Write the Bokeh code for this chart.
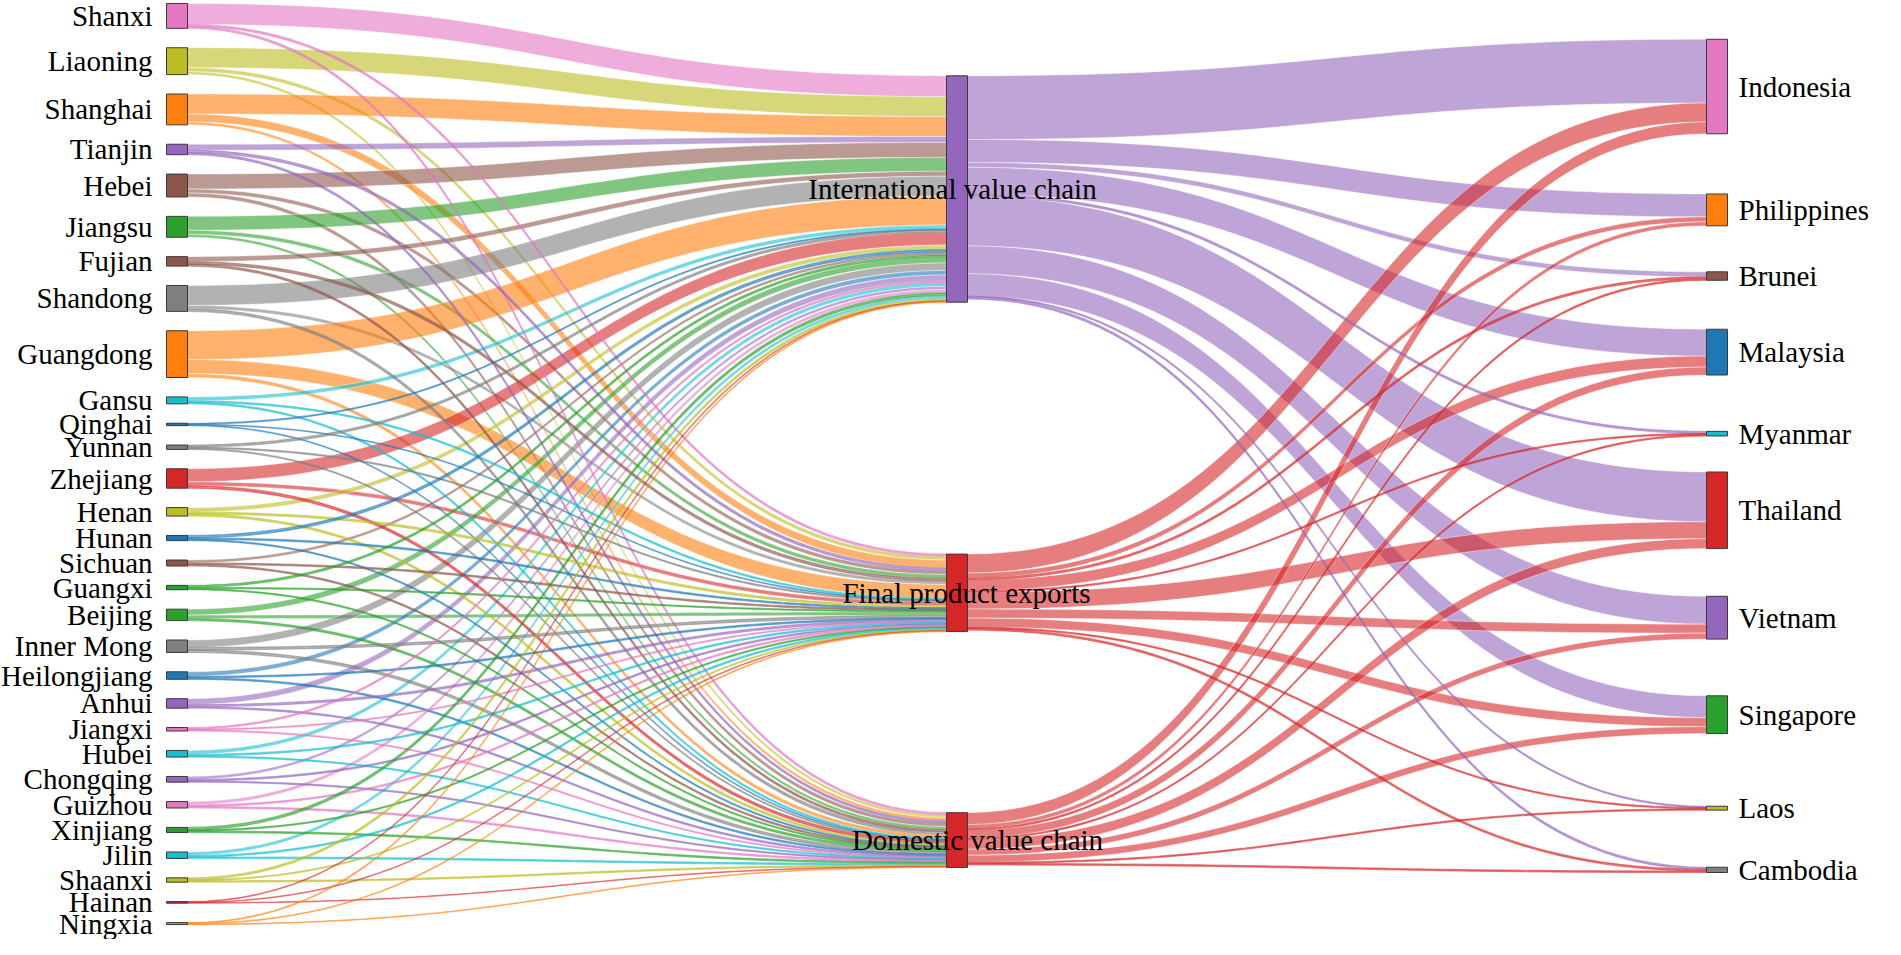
import numpy as np
from bokeh.plotting import figure
from bokeh.models import Range1d, ColumnDataSource
from bokeh.embed import file_html
from bokeh.resources import INLINE
from bokeh.core.properties import value

# ---------------- data ----------------
provinces = ["Shanxi", "Liaoning", "Shanghai", "Tianjin", "Hebei", "Jiangsu", "Fujian",
             "Shandong", "Guangdong", "Gansu", "Qinghai", "Yunnan", "Zhejiang", "Henan",
             "Hunan", "Sichuan", "Guangxi", "Beijing", "Inner Mong", "Heilongjiang", "Anhui",
             "Jiangxi", "Hubei", "Chongqing", "Guizhou", "Xinjiang", "Jilin", "Shaanxi",
             "Hainan", "Ningxia"]
# province -> stage flows
to_ivc = [21, 20, 20, 6, 15, 14, 5, 20, 29, 4, 1, 2.2, 13, 4.5, 2.5, 3, 2, 6, 7.5, 4.5, 6,
          1.5, 4, 3, 3.5, 2.5, 3.5, 2, 0.6, 0.8]
to_fpe = [2, 4, 8, 2.5, 4, 4, 2.5, 3.5, 14, 1.5, 0.7, 1.2, 4, 2, 1.5, 1.5, 1.2, 3.5, 2.5,
          1.5, 2, 1, 1.5, 1.5, 1.5, 1.2, 1.5, 1, 0.5, 0.6]
to_dvc = [2, 3, 3, 2, 4, 3, 2, 2.5, 4, 1.5, 0.7, 1, 2.5, 2, 1.2, 1.5, 1.2, 2, 2.5,
          1.5, 1.5, 1, 1.2, 1.2, 1.5, 1.5, 1.5, 1.4, 0.5, 0.6]

stages = ["International value chain", "Final product exports", "Domestic value chain"]

countries = ["Indonesia", "Philippines", "Brunei", "Malaysia", "Myanmar", "Thailand",
             "Vietnam", "Singapore", "Laos", "Cambodia"]
# stage -> country flows
ivc_out = [64, 23, 5, 27, 2, 50, 28, 22, 1.3, 2]
fpe_out = [19, 5, 2, 11, 1.3, 17, 9, 9, 1.3, 1.8]
dvc_out = [12, 4, 1.5, 8, 1.3, 10, 6, 7, 1.3, 1.5]

# ---------------- styles ----------------
C = {"blue": "#1f77b4", "orange": "#ff7f0e", "green": "#2ca02c", "red": "#d62728",
     "purple": "#9467bd", "brown": "#8c564b", "pink": "#e377c2", "gray": "#7f7f7f",
     "olive": "#bcbd22", "cyan": "#17becf"}
province_colors = [C[c] for c in
                   ["pink", "olive", "orange", "purple", "brown", "green", "brown", "gray",
                    "orange", "cyan", "blue", "gray", "red", "olive", "blue", "brown", "green",
                    "green", "gray", "blue", "purple", "pink", "cyan", "purple", "pink", "green",
                    "cyan", "olive", "red", "orange"]]
stage_colors = [C["purple"], C["red"], C["red"]]
country_colors = [C[c] for c in ["pink", "orange", "brown", "blue", "cyan", "red", "purple",
                                 "green", "olive", "gray"]]

FONT = value("Liberation Serif")
FSIZE = "29px"

# ---------------- layout (reference pixel space) ----------------
COL_X = [172, 952, 1712]
NODE_W = 21
LEFT_TOP, LEFT_BOTTOM = 9, 935
stage_center = [195.5, 601.5, 850]
country_center = [92.5, 216.5, 283, 359.5, 441.5, 518.5, 626.5, 724, 818, 880]
stage_label_x = [958, 972, 983]
K = 1.0  # px per unit

# ---------------- build graph ----------------
n_p, n_s, n_c = len(provinces), len(stages), len(countries)
names = provinces + stages + countries
colors = province_colors + stage_colors + country_colors
col = [0] * n_p + [1] * n_s + [2] * n_c

links = []  # (src, tgt, val)
for i in range(n_p):
    for j, arr in enumerate([to_ivc, to_fpe, to_dvc]):
        links.append((i, n_p + j, arr[i]))
for j, arr in enumerate([ivc_out, fpe_out, dvc_out]):
    for c in range(n_c):
        links.append((n_p + j, n_p + n_s + c, arr[c]))

N = len(names)
vin = np.zeros(N)
vout = np.zeros(N)
for s, t, v in links:
    vout[s] += v
    vin[t] += v
node_val = np.maximum(vin, vout)
h = node_val * K

y0 = np.zeros(N)
pad = (LEFT_BOTTOM - LEFT_TOP - h[:n_p].sum()) / (n_p - 1)
cur = LEFT_TOP
for i in range(n_p):
    y0[i] = cur
    cur += h[i] + pad
for j in range(n_s):
    y0[n_p + j] = stage_center[j] - h[n_p + j] / 2
for c in range(n_c):
    y0[n_p + n_s + c] = country_center[c] - h[n_p + n_s + c] / 2
y1 = y0 + h
ctr = (y0 + y1) / 2

src_y = {}
tgt_y = {}
for nid in range(N):
    outs = sorted([k for k, l in enumerate(links) if l[0] == nid], key=lambda k: ctr[links[k][1]])
    off = y0[nid]
    for k in outs:
        src_y[k] = (off, off + links[k][2] * K)
        off += links[k][2] * K
    ins = sorted([k for k, l in enumerate(links) if l[1] == nid], key=lambda k: ctr[links[k][0]])
    off = y0[nid]
    for k in ins:
        tgt_y[k] = (off, off + links[k][2] * K)
        off += links[k][2] * K


def bez(xa, ya, xb, yb, n=60):
    t = np.linspace(0, 1, n)
    xm = (xa + xb) / 2
    x = (1 - t) ** 3 * xa + 3 * (1 - t) ** 2 * t * xm + 3 * (1 - t) * t ** 2 * xm + t ** 3 * xb
    y = (1 - t) ** 3 * ya + 3 * (1 - t) ** 2 * t * ya + 3 * (1 - t) * t ** 2 * yb + t ** 3 * yb
    return x, y


big = dict(xs=[], ys=[], fc=[])
thin = dict(xs=[], ys=[], fc=[])
for k, (s, t, v) in enumerate(links):
    xa = COL_X[col[s]] + NODE_W
    xb = COL_X[col[t]]
    tx, ty = bez(xa, src_y[k][0], xb, tgt_y[k][0])
    bx, by = bez(xb, tgt_y[k][1], xa, src_y[k][1])
    d = big if v >= 3 else thin
    d["xs"].append(list(tx) + list(bx))
    d["ys"].append(list(ty) + list(by))
    d["fc"].append(colors[s])

# ---------------- figure ----------------
p = figure(width=1885, height=939, output_backend="svg", toolbar_location=None,
           x_range=Range1d(6, 1891), y_range=Range1d(950, 6), min_border=0)
p.axis.visible = False
p.grid.visible = False
p.outline_line_color = None
p.background_fill_color = "white"

p.patches("xs", "ys", source=ColumnDataSource(big), fill_color="fc", fill_alpha=0.6,
          line_color="white", line_width=0.5, line_alpha=0.8)
p.patches("xs", "ys", source=ColumnDataSource(thin), fill_color="fc", fill_alpha=0.6,
          line_color="fc", line_width=1.2, line_alpha=0.5)

nx0 = [COL_X[col[i]] for i in range(N)]
nx1 = [COL_X[col[i]] + NODE_W for i in range(N)]
p.quad(left=nx0, right=nx1, top=list(y0), bottom=list(y1), fill_color=colors,
       line_color="#3a3a3a", line_width=1)

p.text(x=[COL_X[0] - 14] * n_p, y=list(ctr[:n_p]), text=provinces, text_font=FONT,
       text_font_size=FSIZE, text_align="right", text_baseline="middle", text_color="black")
p.text(x=stage_label_x, y=list(ctr[n_p:n_p + n_s]), text=stages, text_font=FONT,
       text_font_size=FSIZE, text_align="center", text_baseline="middle", text_color="black")
p.text(x=[COL_X[2] + NODE_W + 11] * n_c, y=list(ctr[n_p + n_s:]), text=countries,
       text_font=FONT, text_font_size=FSIZE, text_align="left", text_baseline="middle",
       text_color="black")

open("out.html", "w").write(file_html(p, INLINE))
